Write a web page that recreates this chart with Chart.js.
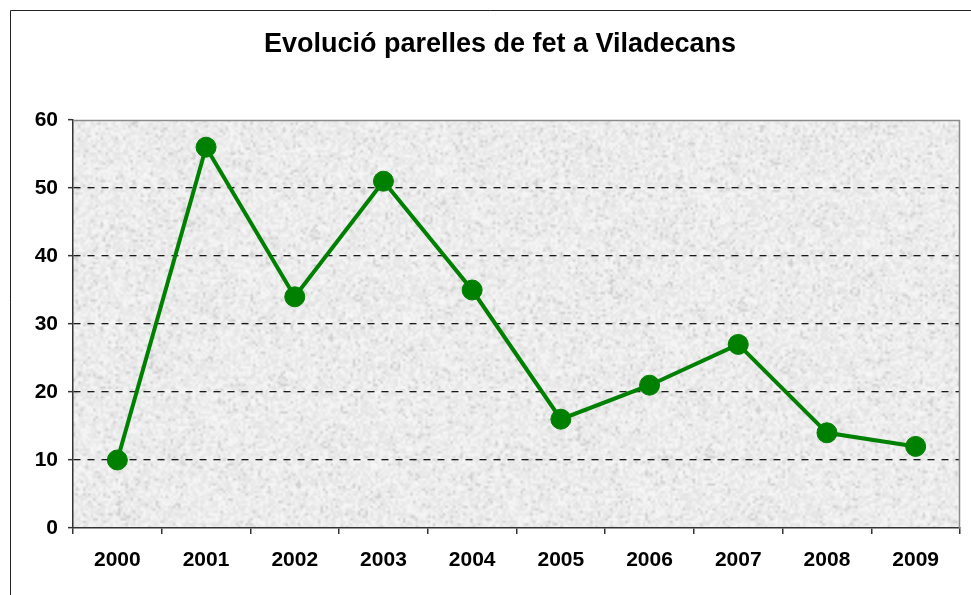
<!DOCTYPE html>
<html>
<head>
<meta charset="utf-8">
<script src="https://cdn.jsdelivr.net/npm/chart.js@4/dist/chart.umd.min.js"></script>
<style>
  html, body { margin: 0; padding: 0; background: #ffffff; }
  #wrap { width: 971px; height: 595px; }
</style>
</head>
<body>
<div id="wrap"><canvas id="c" width="971" height="595"></canvas></div>
<script>
const titleText = 'Evolució parelles de fet a Viladecans';
const years = ['2000','2001','2002','2003','2004','2005','2006','2007','2008','2009'];
const parelles = [10, 56, 34, 51, 35, 16, 21, 27, 14, 12];
const yTicks = [0, 10, 20, 30, 40, 50, 60];

const FONT = "'Liberation Sans', Arial, Helvetica, sans-serif";

// granite-like background texture (decorative only)
function makeTexture(w, h) {
  const sw = Math.ceil(w / 2.5), sh = Math.ceil(h / 2.5);
  const small = document.createElement('canvas');
  small.width = sw; small.height = sh;
  const sc = small.getContext('2d');
  const img = sc.createImageData(sw, sh);
  let s = 987654321;
  for (let i = 0; i < sw * sh; i++) {
    s = (s * 1103515245 + 12345) & 0x7fffffff;
    const r = (s >> 8) % 1000 / 1000;
    let v = 248 - r * 24;
    if (r > 0.94) v -= 16;
    img.data[i*4] = v; img.data[i*4+1] = v; img.data[i*4+2] = v; img.data[i*4+3] = 255;
  }
  sc.putImageData(img, 0, 0);
  const big = document.createElement('canvas');
  big.width = w; big.height = h;
  const bc = big.getContext('2d');
  bc.imageSmoothingEnabled = true;
  bc.drawImage(small, 0, 0, w, h);
  return big;
}
let texture = null;

const framePlugin = {
  id: 'frame',
  beforeDraw(chart) {
    const ctx = chart.ctx;
    const a = chart.chartArea;
    ctx.save();
    ctx.fillStyle = '#ffffff';
    ctx.fillRect(0, 0, chart.width, chart.height);
    ctx.strokeStyle = '#222222';
    ctx.lineWidth = 1;
    ctx.beginPath();
    ctx.moveTo(10.5, chart.height);
    ctx.lineTo(10.5, 10.5);
    ctx.lineTo(chart.width, 10.5);
    ctx.stroke();
    const w = Math.round(a.right - a.left), h = Math.round(a.bottom - a.top);
    if (!texture || texture.width !== w || texture.height !== h) texture = makeTexture(w, h);
    ctx.drawImage(texture, a.left, a.top);
    ctx.restore();
  },
  beforeDatasetsDraw(chart) {
    const ctx = chart.ctx;
    const a = chart.chartArea;
    ctx.save();
    ctx.strokeStyle = '#8a8a8a';
    ctx.lineWidth = 1.5;
    ctx.beginPath();
    ctx.moveTo(a.left, a.top + 0.5);
    ctx.lineTo(a.right - 0.5, a.top + 0.5);
    ctx.lineTo(a.right - 0.5, a.bottom);
    ctx.stroke();
    ctx.restore();
  }
};

new Chart(document.getElementById('c'), {
  type: 'line',
  data: {
    labels: years,
    datasets: [{
      data: parelles,
      borderColor: '#008000',
      backgroundColor: '#008000',
      borderWidth: 4,
      pointRadius: 10,
      pointBorderWidth: 1,
      pointBackgroundColor: '#008000',
      pointBorderColor: '#008000',
      tension: 0,
      fill: false
    }]
  },
  options: {
    responsive: false,
    animation: false,
    events: [],
    layout: { padding: { left: 32, right: 3, top: 0, bottom: 0 } },
    plugins: {
      legend: { display: false },
      tooltip: { enabled: false },
      title: {
        display: true,
        text: titleText,
        color: '#000000',
        font: { family: FONT, size: 27, weight: 'bold', lineHeight: 1.2 },
        padding: { top: 28, bottom: 59.6 }
      }
    },
    scales: {
      x: {
        type: 'category',
        offset: true,
        afterFit(s) { s.height = 67; },
        border: { display: true, color: '#333333', width: 1.5 },
        grid: {
          display: true,
          offset: true,
          drawOnChartArea: false,
          drawTicks: true,
          tickLength: 6,
          color: '#333333',
          lineWidth: 1.5
        },
        ticks: {
          color: '#000000',
          padding: 14,
          maxRotation: 0,
          font: { family: FONT, size: 21, weight: 'bold' }
        }
      },
      y: {
        min: 0,
        max: 60,
        afterFit(s) { s.width = 41; },
        afterBuildTicks(s) { s.ticks = yTicks.map(v => ({ value: v })); },
        border: { display: true, color: '#333333', width: 1.5, dash: [7, 7] },
        grid: {
          color: (c) => (c.tick && (c.tick.value === 0 || c.tick.value === 60)) ? 'rgba(0,0,0,0)' : '#1a1a1a',
          lineWidth: 1.3,
          tickColor: '#333333',
          tickBorderDash: [],
          tickLength: 5,
          tickWidth: 1.5
        },
        ticks: {
          color: '#000000',
          padding: 10,
          font: { family: FONT, size: 21, weight: 'bold' }
        }
      }
    }
  },
  plugins: [framePlugin]
});
</script>
</body>
</html>
